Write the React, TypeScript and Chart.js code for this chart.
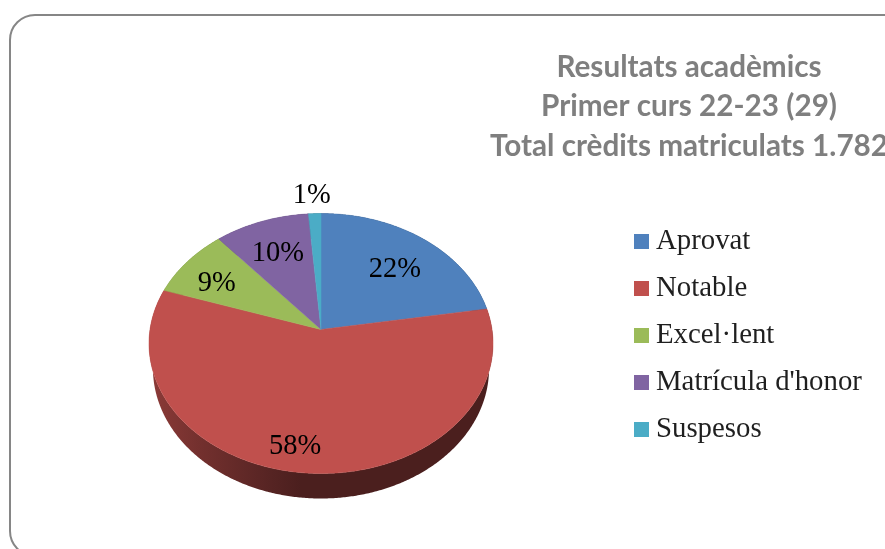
import React, { useEffect, useRef } from "react";
import { Chart, registerables } from "chart.js";

Chart.register(...registerables);

const categories = ["Aprovat", "Notable", "Excel·lent", "Matrícula d'honor", "Suspesos"];
const percentages = [22.4, 57.7, 8.7, 9.9, 1.3];
const sliceColors = ["#4f81bd", "#c0504d", "#9bbb59", "#8064a2", "#4bacc6"];
const titleLines = ["Resultats acadèmics", "Primer curs 22-23 (29)", "Total crèdits matriculats 1.782"];

// Label placement in pie space: fraction of radius, and degrees away from the slice's mid-angle.
const labelRadius = [0.677, 0.835, 0.739, 0.692, 1.185];
const labelAngleShift = [2.0, 5.0, -3.2, -0.4, -0.6];

const LABEL_FONT = "'Liberation Serif', serif";
const view = { cx: 321, cy: 329.5, rx: 171, ry: 128.5, tilt: 0.1077, depth: 25, baseShrink: 0.977 };

function project(angle: number, r = 1) {
  const u = Math.cos(angle) * r;
  const v = Math.sin(angle) * r;
  const w = 1 - view.tilt * v;
  return { x: view.cx + (view.rx * u) / w, y: view.cy + (view.ry * v) / w };
}

function shade(hex: string, f: number) {
  const n = parseInt(hex.slice(1), 16);
  const c = [(n >> 16) & 255, (n >> 8) & 255, n & 255].map((p) => Math.round(p * f));
  return `rgb(${c[0]},${c[1]},${c[2]})`;
}

function swatch(color: string) {
  const c = document.createElement("canvas");
  c.width = 15;
  c.height = 15;
  const g = c.getContext("2d")!;
  g.fillStyle = color;
  g.fillRect(0, 0, 15, 15);
  return c;
}

const tiltedPie = {
  id: "tiltedPie",
  beforeDraw(chart: any) {
    const { ctx } = chart;
    ctx.save();
    ctx.strokeStyle = "#868686";
    ctx.lineWidth = 2;
    ctx.beginPath();
    ctx.roundRect(10, 15, 900, 541, 25);
    ctx.stroke();
    ctx.restore();
  },
  afterLayout(chart: any) {
    const t = chart.titleBlock;
    t.left = 400;
    t.right = 978;
    t.top = 47.5;
    t.bottom = 165;
    const l = chart.legend;
    l.left = 622.4;
    l.right = 885;
    l.top = 208.4;
    l.bottom = 549;
  },
  beforeDatasetDraw(chart: any, args: any) {
    const { ctx } = chart;
    const arcs = chart.getDatasetMeta(args.index).data;
    const colors = chart.data.datasets[args.index].backgroundColor as string[];
    const step = Math.PI / 360;

    arcs.forEach((arc: any, i: number) => {
      const { startAngle, endAngle } = arc;
      const pts: { x: number; y: number }[] = [];
      for (let a = startAngle; a < endAngle; a += step) pts.push(project(a));
      pts.push(project(endAngle));
      const grad = ctx.createLinearGradient(153, 0, 490, 0);
      [[0, 0.72], [0.14, 0.6], [0.35, 0.45], [0.44, 0.39], [1, 0.39]].forEach(([o, f]) =>
        grad.addColorStop(o, shade(colors[i], f))
      );
      ctx.fillStyle = grad;
      ctx.beginPath();
      pts.forEach((p, j) => (j ? ctx.lineTo(p.x, p.y) : ctx.moveTo(p.x, p.y)));
      for (let j = pts.length - 1; j >= 0; j--) {
        ctx.lineTo(view.cx + (pts[j].x - view.cx) * view.baseShrink, pts[j].y + view.depth);
      }
      ctx.closePath();
      ctx.fill();
    });

    arcs.forEach((arc: any, i: number) => {
      const { startAngle, endAngle } = arc;
      ctx.beginPath();
      ctx.moveTo(view.cx, view.cy);
      for (let a = startAngle; a < endAngle; a += step) {
        const p = project(a);
        ctx.lineTo(p.x, p.y);
      }
      const last = project(endAngle);
      ctx.lineTo(last.x, last.y);
      ctx.closePath();
      ctx.fillStyle = colors[i];
      ctx.strokeStyle = colors[i];
      ctx.lineWidth = 0.5;
      ctx.fill();
      ctx.stroke();
    });
    return false;
  },
  afterDatasetsDraw(chart: any) {
    const { ctx } = chart;
    const arcs = chart.getDatasetMeta(0).data;
    ctx.save();
    ctx.fillStyle = "#000";
    ctx.font = `28.5px ${LABEL_FONT}`;
    ctx.textAlign = "center";
    ctx.textBaseline = "middle";
    arcs.forEach((arc: any, i: number) => {
      const mid = (arc.startAngle + arc.endAngle) / 2 + (labelAngleShift[i] * Math.PI) / 180;
      const p = project(mid, labelRadius[i]);
      ctx.fillText(`${Math.round(percentages[i])}%`, p.x, p.y + 1);
    });
    ctx.restore();
  },
};

export default function App() {
  const ref = useRef<HTMLCanvasElement>(null);
  useEffect(() => {
    const chart = new Chart(ref.current!, {
      type: "pie",
      data: {
        labels: categories,
        datasets: [{ data: percentages, backgroundColor: sliceColors, borderWidth: 0 }],
      },
      options: {
        responsive: false,
        animation: false,
        devicePixelRatio: 1,
        plugins: {
          tooltip: { enabled: false },
          title: {
            display: true,
            text: titleLines,
            color: "#7f7f7f",
            padding: 0,
            font: { family: "Lato", size: 29.7, weight: "bold", lineHeight: 39.5 / 29.7 },
          },
          legend: {
            display: true,
            position: "right",
            align: "start",
            labels: {
              color: "#1f1f1f",
              font: { family: LABEL_FONT, size: 28.8 },
              padding: 18.2,
              usePointStyle: true,
              boxWidth: 1,
              boxHeight: 15,
              pointStyleWidth: 1,
              generateLabels: (c: any) =>
                c.data.labels.map((text: string, i: number) => ({
                  text,
                  index: i,
                  datasetIndex: 0,
                  fontColor: "#1f1f1f",
                  fillStyle: sliceColors[i],
                  strokeStyle: sliceColors[i],
                  lineWidth: 0,
                  pointStyle: swatch(sliceColors[i]),
                })),
            },
          },
        },
      } as any,
      plugins: [tiltedPie as any],
    });
    return () => chart.destroy();
  }, []);
  return (
    <div style={{ position: "absolute", left: 0, top: 0, width: 885, height: 549, overflow: "hidden", background: "#fff" }}>
      <canvas ref={ref} width={885} height={549} style={{ display: "block" }} />
    </div>
  );
}
